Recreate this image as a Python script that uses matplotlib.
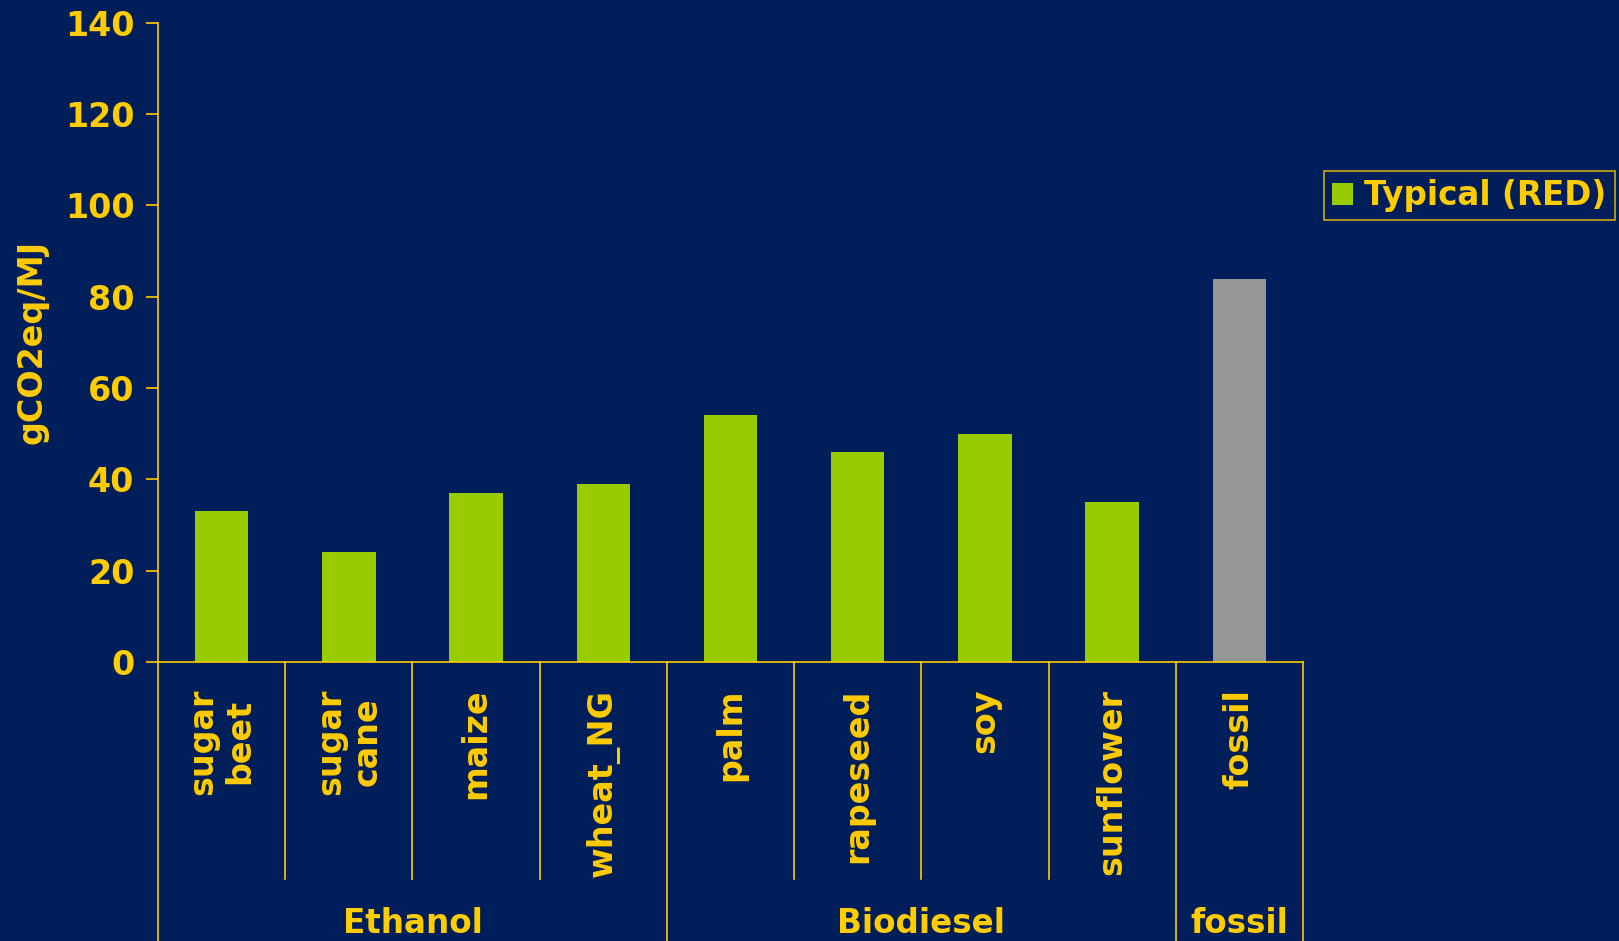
import numpy as np
import matplotlib as mpl
mpl.use("Agg")
import matplotlib.pyplot as plt
import matplotlib.transforms as mtransforms
from matplotlib.patches import Patch

#~~~~~~~~ Input ~~~~~~~~~~~~
crops = ["sugar\nbeet", "sugar\ncane", "maize", "wheat_NG",
         "palm", "rapeseed", "soy", "sunflower", "fossil"]
typical = np.array([33, 24, 37, 39, 54, 46, 50, 35, 83.8])   # gCO2eq/MJ
groups = ["Ethanol", "Biodiesel", "fossil"]
group_size = [4, 4, 1]
#~~~~~~~~~~~~~~~~~~~~~~~~~~~

navy = "#001E5A"
gold = "#FFCC00"
green = "#99CC00"
grey = "#969696"

plt.rcParams["font.family"] = "DejaVu Sans"
plt.rcParams["font.weight"] = "bold"

fig = plt.figure(figsize=(16.19, 9.41), dpi=100, facecolor=navy)
ax = fig.add_axes([0.0976, 0.2967, 0.7072, 0.6792], facecolor=navy)

x = np.arange(len(crops))
colors = [green] * (len(crops) - 1) + [grey]
ax.bar(x, typical, width=0.42, color=colors)

ax.set_xlim(-0.5, len(crops) - 0.5)
ax.set_ylim(0, 140)
ax.set_yticks(np.arange(0, 141, 20))
ax.set_xticks([])
ax.tick_params(axis="y", colors=gold, labelsize=24, length=9, width=1.2, pad=8)
for lab in ax.get_yticklabels():
    lab.set_fontweight("bold")
for s in ["top", "right"]:
    ax.spines[s].set_visible(False)
for s in ["left", "bottom"]:
    ax.spines[s].set_color(gold)
    ax.spines[s].set_linewidth(1.2)

ax.set_ylabel("gCO2eq/MJ", color=gold, fontsize=24, fontweight="bold", labelpad=12)

# category labels and separators below the axis
trans = mtransforms.blended_transform_factory(ax.transData, ax.transAxes)
for xi, name in zip(x, crops):
    ax.text(xi, -0.042, name, transform=trans, rotation=90, ha="center", va="top",
            multialignment="center", color=gold, fontsize=24, fontweight="bold",
            linespacing=1.15, clip_on=False)

bounds = np.concatenate([[0], np.cumsum(group_size)]) - 0.5
for b in np.arange(-0.5, len(crops)):
    if b in bounds:
        ax.plot([b, b], [0, -0.437], transform=trans, color=gold, lw=1.2, clip_on=False)
    else:
        ax.plot([b, b], [0, -0.34], transform=trans, color=gold, lw=1.2, clip_on=False)

for g, lo, hi in zip(groups, bounds[:-1], bounds[1:]):
    ax.text((lo + hi) / 2, -0.41, g, transform=trans, ha="center", va="center",
            color=gold, fontsize=23.5, fontweight="bold", clip_on=False)

leg = fig.legend(handles=[Patch(facecolor=green, label="Typical (RED)")],
                 loc="center left", bbox_to_anchor=(0.8175, 0.792), frameon=True,
                 fancybox=False, fontsize=23.5, handlelength=0.65, handleheight=0.65,
                 handletextpad=0.35, borderpad=0.25, borderaxespad=0)
leg.get_frame().set_facecolor(navy)
leg.get_frame().set_edgecolor(gold)
leg.get_frame().set_linewidth(1.2)
for t in leg.get_texts():
    t.set_color(gold)
    t.set_fontweight("bold")

fig.savefig("out.png", dpi=100, facecolor=navy)
